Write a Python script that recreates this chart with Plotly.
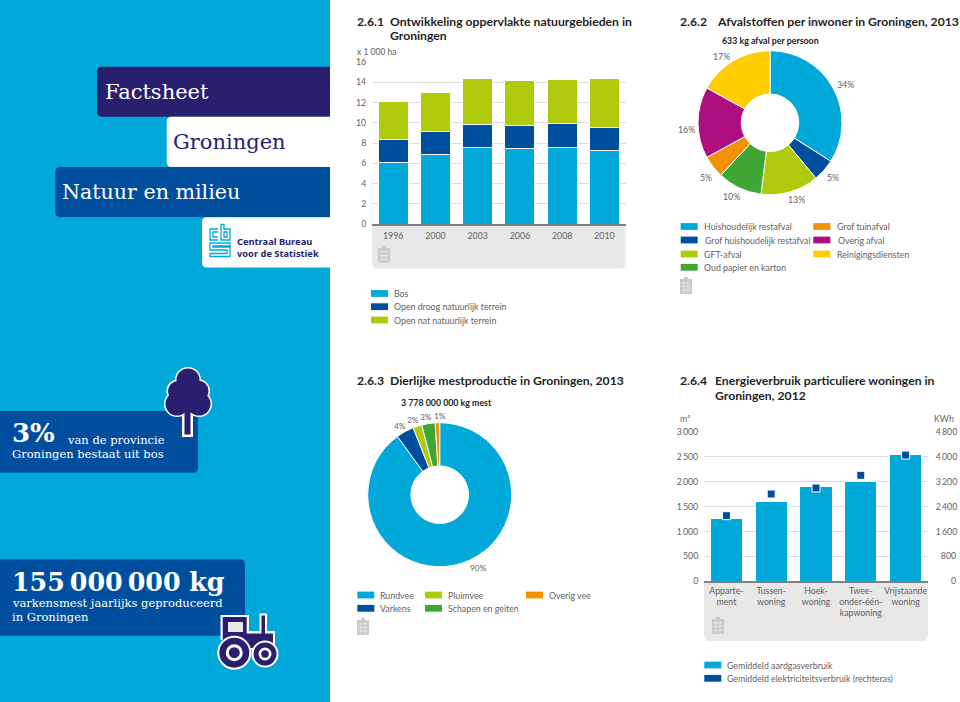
import plotly.graph_objects as go

W, H = 960, 702
# ---------- data ----------
years = ["1996", "2000", "2003", "2006", "2008", "2010"]
bos = [6.1, 6.9, 7.6, 7.5, 7.55, 7.25]
droog = [2.25, 2.25, 2.25, 2.2, 2.35, 2.3]
nat = [3.75, 3.8, 4.55, 4.5, 4.35, 4.85]
area_ticks = [0, 2, 4, 6, 8, 10, 12, 14, 16]

waste_labels = ["Huishoudelijk restafval", "Grof huishoudelijk restafval", "GFT-afval",
                "Oud papier en karton", "Grof tuinafval", "Overig afval", "Reinigingsdiensten"]
waste_values = [34, 5, 13, 10, 5, 16, 17]

manure_labels = ["Rundvee", "Varkens", "Pluimvee", "Schapen en geiten", "Overig vee"]
manure_values = [90, 4, 2, 3, 1]

homes = ["Apparte-<br>ment", "Tussen-<br>woning", "Hoek-<br>woning",
         "Twee-<br>onder-één-<br>kapwoning", "Vrijstaande<br>woning"]
gas = [1250, 1600, 1900, 2000, 2550]
power = [2106, 2800, 2993, 3400, 4050]
gas_ticks = [0, 500, 1000, 1500, 2000, 2500, 3000]
gas_text = ["0", "500", "1\u2009000", "1\u2009500", "2\u2009000", "2\u2009500", "3\u2009000"]
power_ticks = [0, 800, 1600, 2400, 3200, 4000, 4800]
power_text = ["\u2007\u2007\u20070", "\u2007800", "1\u2009600", "2\u2009400", "3\u2009200", "4\u2009000", "4\u2009800"]

# ---------- style ----------
CYAN, BLUE, NAVY = "#00a9da", "#004f9f", "#2a1e6e"
LIME, GREEN, ORANGE, MAG, YEL = "#afca0b", "#3fa535", "#f39200", "#ae0f80", "#ffcc00"
TXT, GRID, PANEL = "#5f5f5f", "#dcdcdc", "#e8e8e8"
BODY = "Lato"
HEAD = "Lato"
SLAB = "DejaVu Serif"
fx = lambda x: x / W
fy = lambda y: 1 - y / H

shapes, notes = [], []


def rect(x0, y0, x1, y1, color):
    shapes.append(dict(type="rect", xref="paper", yref="paper", x0=fx(x0), x1=fx(x1), y0=fy(y0), y1=fy(y1),
                       fillcolor=color, line_width=0, layer="below"))


def path(d, fill=None, line=None, lw=0):
    s = ""
    for c in d:
        if len(c) == 1:
            s += c[0] + " "
        else:
            s += f"{c[0]} " + " ".join(f"{fx(v) if i % 2 == 0 else fy(v):.5f}" for i, v in enumerate(c[1:])) + " "
    shapes.append(dict(type="path", xref="paper", yref="paper", path=s, fillcolor=fill or "rgba(0,0,0,0)",
                       line=dict(color=line or "rgba(0,0,0,0)", width=lw), layer="below"))


def rounded(x0, y0, x1, y1, color, r=5, corners="left"):
    if corners == "left":
        d = [("M", x1, y0), ("L", x0 + r, y0), ("Q", x0, y0, x0, y0 + r), ("L", x0, y1 - r),
             ("Q", x0, y1, x0 + r, y1), ("L", x1, y1), ("Z",)]
    elif corners == "right":
        d = [("M", x0, y0), ("L", x1 - r, y0), ("Q", x1, y0, x1, y0 + r), ("L", x1, y1 - r),
             ("Q", x1, y1, x1 - r, y1), ("L", x0, y1), ("Z",)]
    else:  # bottom
        d = [("M", x0, y0), ("L", x1, y0), ("L", x1, y1 - r), ("Q", x1, y1, x1 - r, y1), ("L", x0 + r, y1),
             ("Q", x0, y1, x0, y1 - r), ("Z",)]
    path(d, fill=color)


def circle(cx, cy, r, fill, line=None, lw=0):
    shapes.append(dict(type="circle", xref="paper", yref="paper", x0=fx(cx - r), x1=fx(cx + r), y0=fy(cy + r),
                       y1=fy(cy - r), fillcolor=fill, line=dict(color=line or fill, width=lw), layer="below"))


def text(x, y, s, size=8.8, color=TXT, family=BODY, anchor="left", weight=None):
    f = dict(size=size, color=color, family=family)
    if weight:
        f["weight"] = weight
    notes.append(dict(xref="paper", yref="paper", x=fx(x), y=fy(y), text=s, showarrow=False, xanchor=anchor,
                      yanchor="middle", font=f, align=anchor, borderpad=0, borderwidth=0))


def calc(x, y):
    col = "#c9c9c9"
    rect(x + 4, y, x + 8, y + 3, col)
    rect(x, y + 2, x + 12, y + 17, col)
    for i in range(1, 4):
        rect(x + 1.5, y + 2 + i * 3.6, x + 10.5, y + 2.7 + i * 3.6, "#f0f0f0")
    for i in range(1, 3):
        rect(x + i * 4 - 0.3, y + 4, x + i * 4 + 0.3, y + 16, "#f0f0f0")


def legend(x, y, color, label, tx=None):
    rect(x, y - 3.4, x + 17, y + 3.4, color)
    text(tx if tx else x + 23, y, label)


# ---------- left blue panel ----------
rect(0, 0, 330, H, CYAN)
rounded(97, 66.7, 330, 116.7, NAVY)
rounded(166.7, 116.7, 330, 167, "#ffffff")
rounded(55.3, 167, 330, 217, BLUE)
rounded(202, 217.3, 330, 267.5, "#ffffff")
text(105, 92, "Factsheet", 21, "#ffffff", SLAB)
text(173, 142, "Groningen", 21, NAVY, SLAB)
text(62, 192, "Natuur en milieu", 20.6, "#ffffff", SLAB)
text(237, 241, "Centraal Bureau", 9.3, NAVY, "Noto Sans", weight=700)
text(237, 253.5, "voor de Statistiek", 9.3, NAVY, "Noto Sans", weight=700)
# cbs logo
L = dict(line=CYAN, lw=1.3)
path([("M", 218, 229), ("L", 210, 229), ("L", 210, 240), ("L", 218, 240)], **L)
path([("M", 218, 232), ("L", 213, 232), ("L", 213, 237), ("L", 218, 237)], **L)
path([("M", 221, 224.5), ("L", 221, 240), ("L", 230, 240), ("L", 230, 229), ("L", 224, 229), ("L", 224, 224.5), ("Z",)], **L)
path([("M", 224, 232), ("L", 227, 232), ("L", 227, 237), ("L", 224, 237), ("Z",)], **L)
path([("M", 230, 243), ("L", 210, 243), ("L", 210, 250), ("L", 227, 250), ("L", 227, 253.5), ("L", 210, 253.5),
      ("L", 210, 256.5), ("L", 230, 256.5), ("L", 230, 247), ("L", 213, 247), ("L", 213, 246), ("L", 230, 246), ("Z",)], **L)

# callouts
rounded(0, 411, 198, 472.7, BLUE, corners="right")
text(12, 433, "3%", 26, "#ffffff", SLAB, weight=700)
text(67, 440, "van de provincie", 11.5, "#ffffff", SLAB)
text(12, 454, "Groningen bestaat uit bos", 11.5, "#ffffff", SLAB)
rounded(0, 559.3, 245, 635.7, BLUE, corners="right")
text(12, 582, "155\u2009000\u2009000 kg", 25.3, "#ffffff", SLAB, weight=700)
text(12, 603, "varkensmest jaarlijks geproduceerd", 11.5, "#ffffff", SLAB)
text(12, 616.5, "in Groningen", 11.5, "#ffffff", SLAB)

# tree icon
crown = [(188, 380, 11.5), (178, 391, 10), (198, 391, 10.5), (177, 404, 11.5), (199, 404, 11.5), (188, 400, 13)]
rect(182, 410, 193, 437, "#ffffff")
for cx, cy, r in crown:
    circle(cx, cy, r, "#ffffff", "#ffffff", 3)
for cx, cy, r in crown:
    circle(cx, cy, r, NAVY)
rect(184.5, 410, 190.5, 434.5, NAVY)

# tractor icon
rect(220.5, 615, 249, 640, "#ffffff")
rect(246, 631, 275, 650, "#ffffff")
rect(259.5, 613.5, 267, 634, "#ffffff")
rect(222.7, 617, 246.7, 648, NAVY)
rect(246, 633.5, 273, 648, NAVY)
rect(261.5, 615.5, 265, 634, NAVY)
rect(228, 622, 243, 632, "#e8e8e8")
circle(234.3, 652.7, 16, NAVY, "#ffffff", 2)
circle(234.3, 652.7, 8.5, "#ffffff")
circle(234.3, 652.7, 5.5, NAVY)
circle(265, 654, 12.5, NAVY, "#ffffff", 2)
circle(265, 654, 6.5, "#ffffff")
circle(265, 654, 3.8, NAVY)

# ---------- chart headers ----------
TS = 12.2
for x, tx, y, n, lines in [
    (357, 390, 21.5, "2.6.1", ["Ontwikkeling oppervlakte natuurgebieden in", "Groningen"]),
    (680, 716.5, 21.5, "2.6.2", ["Afvalstoffen per inwoner in Groningen, 2013"]),
    (357, 390, 381, "2.6.3", ["Dierlijke mestproductie in Groningen, 2013"]),
    (680, 714.5, 381, "2.6.4", ["Energieverbruik particuliere woningen in", "Groningen, 2012"]),
]:
    text(x, y, n, TS, "#1f1f1f", HEAD, weight=700)
    for i, line in enumerate(lines):
        text(tx, y + i * 14, line, TS, "#1f1f1f", HEAD, weight=700)
text(770, 41, "633 kg afval per persoon", 8.8, "#222222", BODY, "center", 700)
text(446.5, 402, "3 778 000 000 kg mest", 8.8, "#222222", BODY, "center", 700)
text(357, 52, "x 1 000 ha", 8.5)
text(680, 419, "m³")
text(954, 419, "KWh", anchor="right")

# ---------- panels, icons, legends ----------
rounded(372, 224, 625.5, 268.5, PANEL, corners="bottom")
rounded(704, 581, 928, 641, PANEL, corners="bottom")
calc(378, 246)
calc(680, 277)
calc(357, 618)
calc(712, 617)

for y, c, l in zip([293.5, 306.7, 320], [CYAN, BLUE, LIME], ["Bos", "Open droog natuurlijk terrein", "Open nat natuurlijk terrein"]):
    legend(371, y, c, l)
waste_colors = [CYAN, BLUE, LIME, GREEN, ORANGE, MAG, YEL]
for y, c, l, tx in zip([226.5, 240, 254, 267.3], waste_colors[:4], waste_labels[:4], [704, 705, 704, 704]):
    legend(680.7, y, c, l, tx)
for y, c, l, tx in zip([226.5, 240, 254], waste_colors[4:], waste_labels[4:], [836.7, 838, 836.7]):
    legend(813.3, y, c, l, tx)
manure_colors = [CYAN, BLUE, LIME, GREEN, ORANGE]
for (x, y, tx), c, l in zip([(357.3, 595, 379.7), (357.3, 608.3, 379.7), (425, 595, 447.7), (425, 608.3, 447.7), (526, 595, 549)],
                            manure_colors, manure_labels):
    legend(x, y, c, l, tx)
legend(704.3, 665, CYAN, "Gemiddeld aardgasverbruik", 727.3)
legend(704.3, 678.3, BLUE, "Gemiddeld elektriciteitsverbruik (rechteras)", 727.3)

# pie value labels
for (x, y), v in zip([(845.7, 84.7), (833.3, 177), (796.7, 200), (731.3, 197), (705.7, 177), (686.7, 129), (721.3, 56.7)], waste_values):
    text(x, y, f"{v}%", anchor="center")
for (x, y), v in zip([(478.7, 568.3), (399.5, 425.7), (413, 420.3), (425.5, 416.7), (439.5, 416)], manure_values):
    text(x, y, f"{v}%", 8.4, anchor="center")

# ---------- traces ----------
fig = go.Figure()
bar_line = dict(color="#ffffff", width=1)
for vals, c, name in [(bos, CYAN, "Bos"), (droog, BLUE, "Open droog natuurlijk terrein"), (nat, LIME, "Open nat natuurlijk terrein")]:
    fig.add_trace(go.Bar(x=years, y=vals, name=name, marker=dict(color=c, line=bar_line), xaxis="x", yaxis="y"))

fig.add_trace(go.Bar(x=homes, y=gas, name="Gemiddeld aardgasverbruik", marker=dict(color=CYAN, line=bar_line),
                     xaxis="x2", yaxis="y2", width=0.715))
fig.add_trace(go.Scatter(x=homes, y=power, name="Gemiddeld elektriciteitsverbruik (rechteras)", mode="markers",
                         marker=dict(symbol="square", size=8, color=BLUE, line=dict(color="#ffffff", width=1)),
                         xaxis="x2", yaxis="y3"))


def pie(vals, labels, colors, cx, cy, r):
    fig.add_trace(go.Pie(values=vals, labels=labels, sort=False, direction="clockwise", rotation=0, hole=0.4,
                         marker=dict(colors=colors, line=dict(color="#ffffff", width=1)),
                         textinfo="none", showlegend=False,
                         domain=dict(x=[fx(cx - r), fx(cx + r)], y=[fy(cy + r), fy(cy - r)])))


pie(waste_values, waste_labels, waste_colors, 770, 122.7, 72)
pie(manure_values, manure_labels, manure_colors, 439.7, 494.7, 72)

tickfont = dict(size=8.8, color=TXT, family=BODY)
clear = "rgba(0,0,0,0)"
common_y = dict(showgrid=True, gridcolor=GRID, gridwidth=1, zeroline=False, showline=False, ticks="outside", ticklen=3,
                tickcolor=clear, tickfont=tickfont, fixedrange=True)
common_x = dict(showgrid=False, zeroline=False, showline=True, linecolor="#808080", linewidth=1.5, ticks="outside", tickcolor=clear,
                tickfont=tickfont, fixedrange=True, type="category")
fig.update_layout(
    width=W, height=H, autosize=False, margin=dict(l=0, r=0, t=0, b=0, autoexpand=False), paper_bgcolor="#ffffff", plot_bgcolor=clear,
    barmode="stack", bargap=0.29, showlegend=False, shapes=shapes, annotations=notes,
    xaxis=dict(domain=[fx(372), fx(625.5)], anchor="y", ticklen=3, **common_x),
    yaxis=dict(domain=[fy(224), fy(62)], anchor="x", range=[0, 16], tickvals=area_ticks, **common_y),
    xaxis2=dict(domain=[fx(704), fx(928)], anchor="y2", ticklen=0, tickangle=0, **common_x),
    yaxis2=dict(domain=[fy(581.3), fy(431.7)], anchor="x2", range=[0, 3000], tickvals=gas_ticks, ticktext=gas_text, **common_y),
    yaxis3=dict(domain=[fy(581.3), fy(431.7)], anchor="x2", overlaying="y2", side="right", range=[0, 4800], tickvals=power_ticks,
                ticktext=power_text, showgrid=False, zeroline=False, showline=False, ticks="outside", ticklen=5, tickcolor=clear,
                tickfont=tickfont, fixedrange=True),
)
fig.write_html("out.html", config=dict(displayModeBar=False), post_script="document.body.style.margin='0';")
